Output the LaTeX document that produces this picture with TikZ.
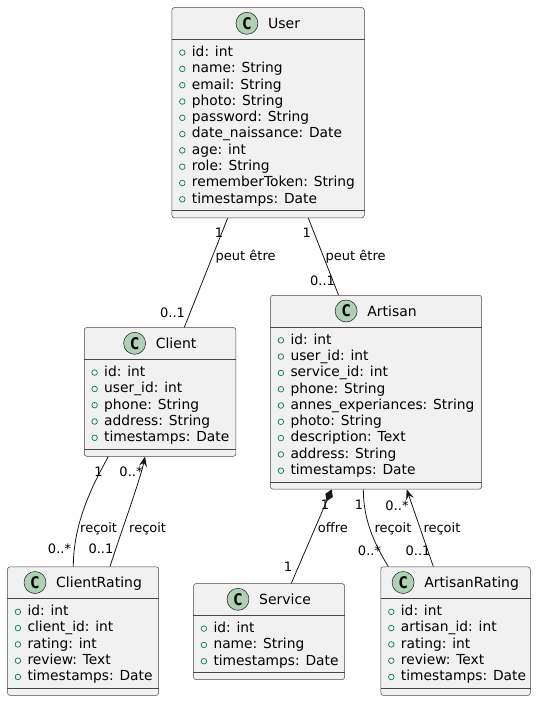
\documentclass[tikz,border=0pt]{standalone}
\usepackage{fontspec}
\setmainfont{DejaVu Sans}
\newfontfamily\classletterfont{DejaVu Sans Mono}
\usetikzlibrary{arrows.meta,calc}

\definecolor{boxfill}{HTML}{F1F1F1}
\definecolor{ink}{HTML}{181818}
\definecolor{spotfill}{HTML}{ADD1B2}
\definecolor{attrgreen}{HTML}{038048}

\tikzset{
  classbox/.style={draw=ink!80, fill=boxfill, line width=0.5pt, rounded corners=2.5pt, inner sep=0pt},
  classline/.style={draw=ink!80, line width=0.5pt},
  classspot/.style={circle, draw=ink, fill=spotfill, line width=0.5pt, minimum size=22pt, inner sep=0pt,
    font=\classletterfont\bfseries\fontsize{16}{16}\selectfont},
  titletext/.style={inner sep=0pt, font=\fontsize{14}{16}\selectfont, text=black},
  attrtext/.style={inner sep=0pt, font=\fontsize{13.8}{16}\selectfont, text=black},
  attrmark/.style={draw=attrgreen, line width=0.7pt},
  conn/.style={draw=ink, line width=0.8pt},
  lbl/.style={inner sep=0pt, font=\fontsize{13}{15}\selectfont, text=black},
  headtip/.style={-{Stealth[length=10pt,width=8pt,inset=3.5pt]}},
  composition/.style={{Diamond[length=13pt,width=8pt]}-},
}

% #1 node name, #2 title, #3 left, #4 top, #5 right, #6 attribute list
\newcommand\umlclass[6]{%
  \gdef\attrtotal{0}%
  \foreach \a in {#6} {\xdef\attrtotal{\the\numexpr\attrtotal+1\relax}}%
  \pgfmathsetmacro\classheight{32+12.3+16.3*(\attrtotal-1)+11.7+7.5}%
  \pgfmathsetmacro\classwidth{#5-#3}%
  \node[classbox, anchor=north west, minimum width=\classwidth pt, minimum height=\classheight pt] (#1) at (#3,#4) {};
  \draw[classline] ([yshift=-32pt]#1.north west) -- ([yshift=-32pt]#1.north east);
  \draw[classline] ([yshift=7.5pt]#1.south west) -- ([yshift=7.5pt]#1.south east);
  \node[titletext, anchor=base] (#1-title) at ([yshift=-21pt]#1.north) {\hspace*{32pt}#2};
  \node[classspot] (#1-spot) at ([xshift=11pt,yshift=5pt]#1-title.base west) {C};
  \foreach \a [count=\i] in {#6} {
    \pgfmathsetmacro\ay{#4+44.3+16.3*(\i-1)}
    \draw[attrmark] (#3+10.6,\ay+1) circle (2.8);
    \node[attrtext, anchor=base west] (#1-a\i) at (#3+20,\ay+4.8) {\a};
  }%
}

\begin{document}
\begin{tikzpicture}[x=1pt, y=-1pt]
  \fill[white] (0,0) rectangle (536,702);
  \useasboundingbox (0,0) rectangle (536,702);

  % classes
  \umlclass{User}{User}{171.7}{7.3}{364}{
    id: int, name: String, email: String, photo: String, password: String,
    date\_naissance: Date, age: int, role: String, rememberToken: String, timestamps: Date}
  \umlclass{Client}{Client}{84}{327.3}{235.7}{
    id: int, user\_id: int, phone: String, address: String, timestamps: Date}
  \umlclass{Artisan}{Artisan}{270.3}{295}{481.3}{
    id: int, user\_id: int, service\_id: int, phone: String, annes\_experiances: String,
    photo: String, description: Text, address: String, timestamps: Date}
  \umlclass{ClientRating}{ClientRating}{7.3}{566.5}{158.3}{
    id: int, client\_id: int, rating: int, review: Text, timestamps: Date}
  \umlclass{Service}{Service}{193.3}{583.3}{344.3}{
    id: int, name: String, timestamps: Date}
  \umlclass{ArtisanRating}{ArtisanRating}{380.7}{566.5}{530}{
    id: int, artisan\_id: int, rating: int, review: Text, timestamps: Date}

  % User -- Client
  \draw[conn] ([xshift=56pt]User.south west) -- ([xshift=100.3pt]Client.north west);
  \node[lbl, anchor=base] (uc1) at (219,237.5) {1};
  \node[lbl, anchor=base west] (uc2) at (215.5,260.5) {peut être};
  \node[lbl, anchor=base] (uc3) at (172.5,317) {0..1};

  % User -- Artisan
  \draw[conn] ([xshift=136.6pt]User.south west) -- ([xshift=68.2pt]Artisan.north west);
  \node[lbl, anchor=base] (ua1) at (306.7,237.5) {1};
  \node[lbl, anchor=base west] (ua2) at (325.5,260.5) {peut être};
  \node[lbl, anchor=base] (ua3) at (322.5,285) {0..1};

  % Client -- ClientRating
  \draw[conn] ([xshift=24.3pt]Client.south west) .. controls +(-13,24) and +(0,-46.5) .. ([xshift=66pt]ClientRating.north west);
  \node[lbl, anchor=base] (cr1) at (98.5,476.5) {1};
  \node[lbl, anchor=base west] (cr2) at (80,532.5) {reçoit};
  \node[lbl, anchor=base] (cr3) at (59.5,553.5) {0..*};

  % ClientRating --> Client
  \draw[conn, headtip] ([xshift=102.7pt]ClientRating.north west) .. controls +(10,-31.5) and +(-5,24) .. ([xshift=61pt]Client.south west);
  \node[lbl, anchor=base] (rc1) at (131,476.5) {0..*};
  \node[lbl, anchor=base west] (rc2) at (129,532.5) {reçoit};
  \node[lbl, anchor=base] (rc3) at (101,553.5) {0..1};

  % Artisan *-- Service
  \draw[conn, composition] ([xshift=61.4pt]Artisan.south west) -- ([xshift=98pt]Service.north west);
  \node[lbl, anchor=base] (as1) at (325,509.5) {1};
  \node[lbl, anchor=base west] (as2) at (317.7,532.5) {offre};
  \node[lbl, anchor=base] (as3) at (288,571.5) {1};

  % Artisan -- ArtisanRating
  \draw[conn] ([xshift=93pt]Artisan.south west) .. controls +(0,31) and +(-13.3,-21.5) .. ([xshift=7.6pt]ArtisanRating.north west);
  \node[lbl, anchor=base] (ar1) at (359,509.5) {1};
  \node[lbl, anchor=base west] (ar2) at (374.3,532.5) {reçoit};
  \node[lbl, anchor=base] (ar3) at (369.5,555) {0..*};

  % ArtisanRating --> Artisan
  \draw[conn, headtip] ([xshift=52.6pt]ArtisanRating.north west) -- ([xshift=136.4pt]Artisan.south west);
  \node[lbl, anchor=base] (ra1) at (397,510) {0..*};
  \node[lbl, anchor=base west] (ra2) at (423.3,532.5) {reçoit};
  \node[lbl, anchor=base] (ra3) at (418,555) {0..1};
\end{tikzpicture}
\end{document}
